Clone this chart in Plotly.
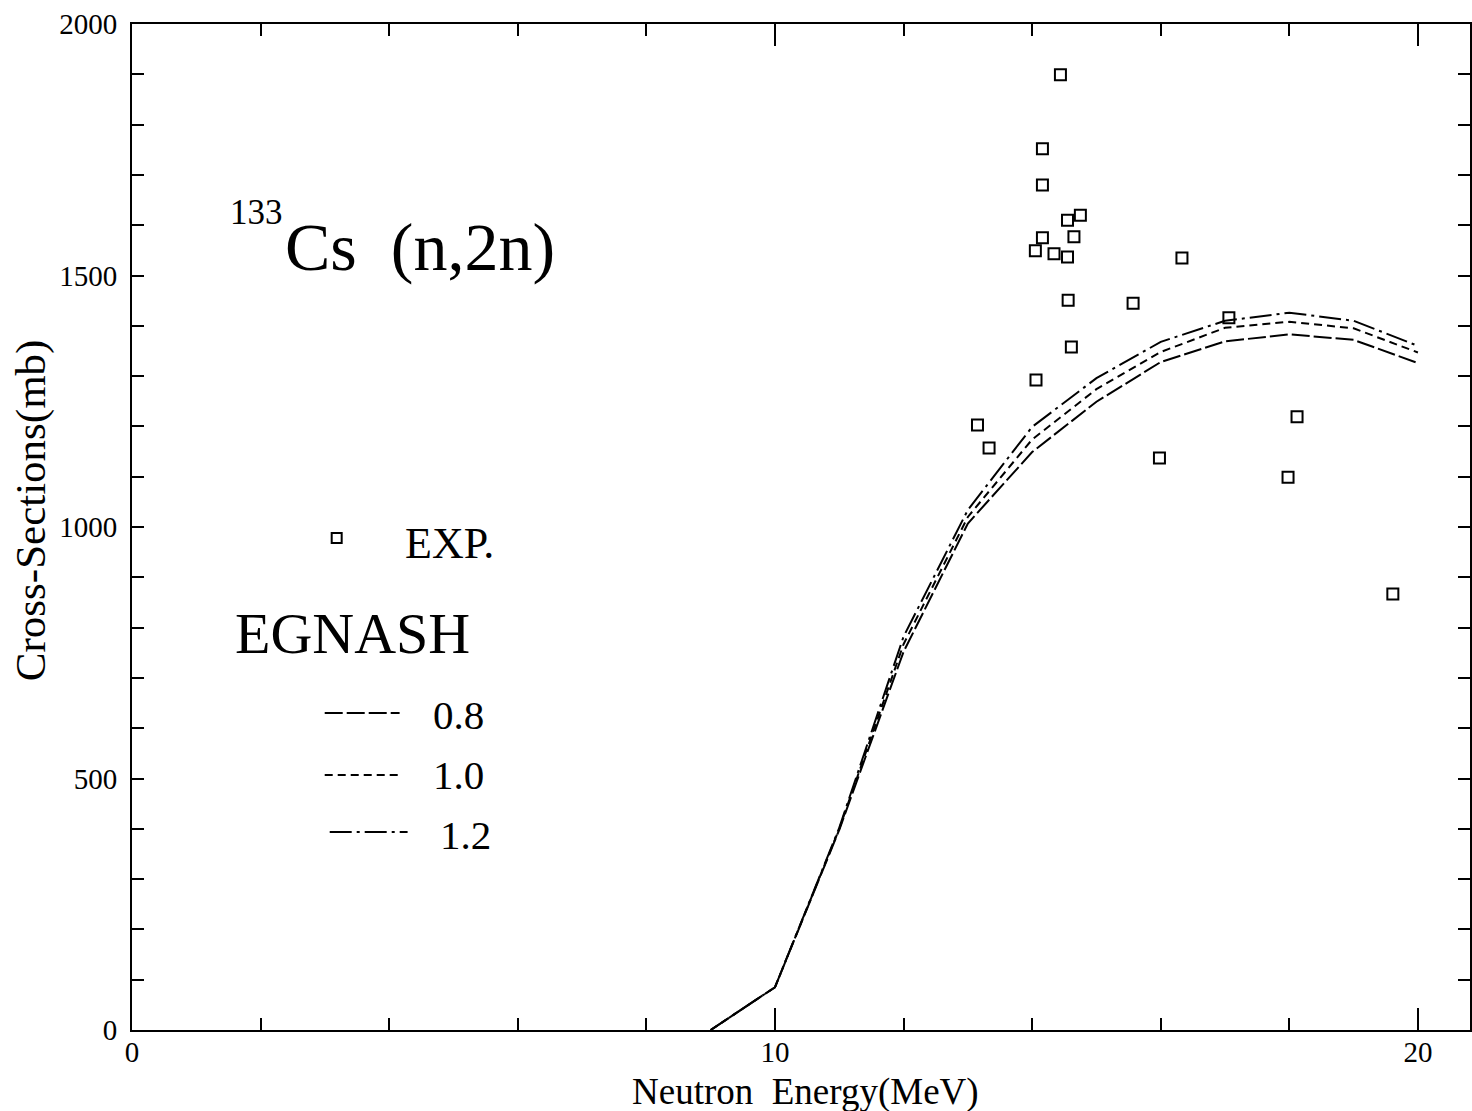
import plotly.graph_objects as go

# Experimental data (MeV, mb)
exp_energy = [14.44, 14.16, 14.16, 14.55, 14.75, 14.16, 14.65, 14.05, 14.34, 14.55, 14.56,
              15.57, 14.61, 16.33, 17.06, 14.06, 13.15, 13.33, 15.98, 18.12, 17.98, 19.61]
exp_xs = [1899, 1752, 1680, 1610, 1620, 1575, 1577, 1549, 1543, 1537, 1451,
          1445, 1358, 1535, 1416, 1292, 1203, 1157, 1137, 1219, 1099, 867]

# EGNASH calculations
calc_energy = [9, 10, 11, 12, 13, 14, 15, 16, 17, 18, 19, 20]
xs_08 = [0, 85, 398, 752, 1007, 1149, 1249, 1328, 1369, 1383, 1372, 1326]
xs_10 = [0, 85, 400, 767, 1020, 1174, 1274, 1348, 1396, 1408, 1395, 1347]
xs_12 = [0, 85, 402, 782, 1034, 1199, 1296, 1368, 1410, 1426, 1410, 1360]

legend_labels = ["0.8", "1.0", "1.2"]
x_ticks = [0, 10, 20]
y_ticks = [0, 500, 1000, 1500, 2000]

FONT = "Liberation Serif"
DASH_08 = "18px,4px"
DASH_10 = "8px,5px"
DASH_12 = "22px,5px,3px,5px"

fig = go.Figure()
for ys, dash in [(xs_08, DASH_08), (xs_10, DASH_10), (xs_12, DASH_12)]:
    fig.add_trace(go.Scatter(x=calc_energy, y=ys, mode="lines",
                             line=dict(color="black", width=2, dash=dash),
                             showlegend=False, hoverinfo="skip"))
fig.add_trace(go.Scatter(x=exp_energy, y=exp_xs, mode="markers",
                         marker=dict(symbol="square-open", size=11, color="black",
                                     line=dict(width=2, color="black")),
                         showlegend=False))

W, H = 1472, 1111
L, R, T, B = 132, 0, 24, 81
XMAX = 20.81
pw, ph = W - L - R, H - T - B


def px(xp):
    return (xp - L) / pw


def py(yp):
    return (H - B - yp) / ph


ann = []
ann.append(dict(text="133", x=px(228), y=py(212), xanchor="left", yanchor="middle",
                font=dict(size=35)))
ann.append(dict(text="Cs\u00a0\u00a0(n,2n)", x=px(283), y=py(247), xanchor="left",
                yanchor="middle", font=dict(size=68)))
ann.append(dict(text="EXP.", x=px(403), y=py(543), xanchor="left", yanchor="middle",
                font=dict(size=44)))
ann.append(dict(text="EGNASH", x=px(233), y=py(633), xanchor="left", yanchor="middle",
                font=dict(size=58)))
label_y = [715, 775, 835]
label_x = [431, 431, 438]
for lab, yy, xx in zip(legend_labels, label_y, label_x):
    ann.append(dict(text=lab, x=px(xx), y=py(yy), xanchor="left", yanchor="middle",
                    font=dict(size=41)))
ann.append(dict(text="Neutron\u00a0\u00a0Energy(MeV)", x=px(807), y=py(1092),
                xanchor="center", yanchor="middle", font=dict(size=37)))
ann.append(dict(text="Cross-Sections(mb)", x=px(31), y=py(510), textangle=-90,
                xanchor="center", yanchor="middle", font=dict(size=43)))
for a in ann:
    a.update(xref="paper", yref="paper", showarrow=False)

shapes = []
shapes.append(dict(type="rect", xref="paper", yref="paper",
                   x0=px(332), x1=px(342), y0=py(543), y1=py(533),
                   line=dict(color="black", width=2)))
for (x0, x1, yy, dash) in [(325, 400, 713, DASH_08), (325, 400, 775, DASH_10),
                           (330, 408, 832, DASH_12)]:
    shapes.append(dict(type="line", xref="paper", yref="paper",
                       x0=px(x0), x1=px(x1), y0=py(yy), y1=py(yy),
                       line=dict(color="black", width=2, dash=dash)))

fig.update_layout(
    width=W, height=H,
    margin=dict(l=L, r=R, t=T, b=B, pad=0),
    paper_bgcolor="white", plot_bgcolor="white",
    font=dict(family=FONT, color="black"),
    annotations=ann, shapes=shapes,
    showlegend=False,
    xaxis=dict(range=[0, XMAX], tickvals=x_ticks, ticktext=[str(v) for v in x_ticks],
               ticks="inside", ticklen=22, tickwidth=2, tickcolor="black",
               minor=dict(dtick=2, ticks="inside", ticklen=12, tickwidth=2, tickcolor="black"),
               showline=True, linecolor="black", linewidth=2, mirror="ticks",
               showgrid=False, zeroline=False, ticklabelstandoff=-5,
               tickfont=dict(size=29, family=FONT)),
    yaxis=dict(range=[0, 2000], tickvals=y_ticks, ticktext=[str(v) for v in y_ticks],
               ticks="inside", ticklen=12, tickwidth=2, tickcolor="black",
               minor=dict(dtick=100, ticks="inside", ticklen=12, tickwidth=2, tickcolor="black"),
               showline=True, linecolor="black", linewidth=2, mirror="ticks",
               showgrid=False, zeroline=False, ticklabelstandoff=7,
               tickfont=dict(size=29, family=FONT)),
)

fig.write_html("out.html")
